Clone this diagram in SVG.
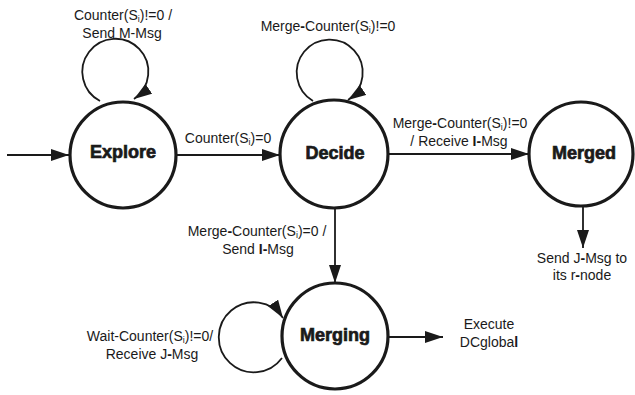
<svg xmlns="http://www.w3.org/2000/svg" width="635" height="395" viewBox="0 0 635 395">
  <style>
    .state { fill: #fff; stroke: #1a1a1a; stroke-width: 3.2; }
    .name { font-family: "Liberation Sans", Arial, sans-serif; font-size: 18px; font-weight: bold; fill: #1a1a1a; stroke: #1a1a1a; stroke-width: 0.7; text-anchor: middle; }
    .lbl { font-family: "Liberation Sans", Arial, sans-serif; font-size: 14px; fill: #1a1a1a; text-anchor: middle; }
    .sub { font-size: 9px; }
    .b { font-weight: bold; }
    .edge { fill: none; stroke: #1a1a1a; stroke-width: 1.8; marker-end: url(#arrow); }
  </style>
  <defs>
    <marker id="arrow" markerUnits="userSpaceOnUse" markerWidth="18" markerHeight="12" refX="18" refY="6" orient="auto">
      <path d="M0,0 L18,6 L0,12 z" fill="#1a1a1a"/>
    </marker>
  </defs>

  <rect width="635" height="395" fill="#fff"/>

  <g id="connectors">
    <!-- initial transition -->
    <line class="edge" x1="7" y1="155" x2="69" y2="155"/>
    <!-- Explore -> Decide -->
    <line class="edge" x1="176" y1="155" x2="280" y2="155"/>
    <!-- Decide -> Merged -->
    <line class="edge" x1="388" y1="154" x2="529" y2="154"/>
    <!-- Decide -> Merging -->
    <line class="edge" x1="335" y1="208" x2="335" y2="283"/>
    <!-- Merged -> output -->
    <line class="edge" x1="583" y1="206" x2="583" y2="248"/>
    <!-- Merging -> output -->
    <line class="edge" x1="388" y1="337" x2="443" y2="337"/>
    <!-- self loops -->
    <path class="edge" d="M100,101 A33 33 0 1 1 134,99"/>
    <path class="edge" d="M313,101 A33 33 0 1 1 348,100"/>
    <path class="edge" d="M282,358 A35 35 0 1 1 283,318"/>
  </g>

  <g id="explore">
    <circle class="state" cx="123" cy="155" r="53"/>
    <text class="name" x="123" y="158">Explore</text>
  </g>
  <g id="decide">
    <circle class="state" cx="334" cy="154" r="54"/>
    <text class="name" x="335" y="159">Decide</text>
  </g>
  <g id="merged">
    <circle class="state" cx="581" cy="154" r="52"/>
    <text class="name" x="584" y="159">Merged</text>
  </g>
  <g id="merging">
    <circle class="state" cx="335" cy="336" r="53"/>
    <text class="name" x="335" y="341">Merging</text>
  </g>

  <g id="labels">
    <text class="lbl" x="123" y="20">Counter(S<tspan class="sub" dy="2">i</tspan><tspan dy="-2">)!=0 /</tspan></text>
    <text class="lbl" x="122" y="38">Send M-Msg</text>

    <text class="lbl" x="328" y="31">Merge<tspan class="b">-</tspan>Counter(S<tspan class="sub" dy="2">i</tspan><tspan dy="-2">)!=0</tspan></text>

    <text class="lbl" x="228" y="143">Counter(S<tspan class="sub" dy="2">i</tspan><tspan dy="-2">)=0</tspan></text>

    <text class="lbl" x="460" y="128">Merge<tspan class="b">-</tspan>Counter(S<tspan class="sub" dy="2">i</tspan><tspan dy="-2">)!=0</tspan></text>
    <text class="lbl" x="459" y="146">/ Receive <tspan class="b">I-</tspan>Msg</text>

    <text class="lbl" x="582" y="263">Send J<tspan class="b">-</tspan>Msg to</text>
    <text class="lbl" x="582" y="280">its r<tspan class="b">-</tspan>node</text>

    <text class="lbl" x="257" y="236">Merge<tspan class="b">-</tspan>Counter(S<tspan class="sub" dy="2">i</tspan><tspan dy="-2">)=0 /</tspan></text>
    <text class="lbl" x="258" y="254">Send <tspan class="b">I-</tspan>Msg</text>

    <text class="lbl" x="150" y="341">Wait-Counter(S<tspan class="sub" dy="2">i</tspan><tspan dy="-2">)!=0/</tspan></text>
    <text class="lbl" x="152" y="359">Receive J<tspan class="b">-</tspan>Msg</text>

    <text class="lbl" x="489" y="329">Execute</text>
    <text class="lbl" x="489" y="347">DCgloba<tspan class="b">l</tspan></text>
  </g>
</svg>
